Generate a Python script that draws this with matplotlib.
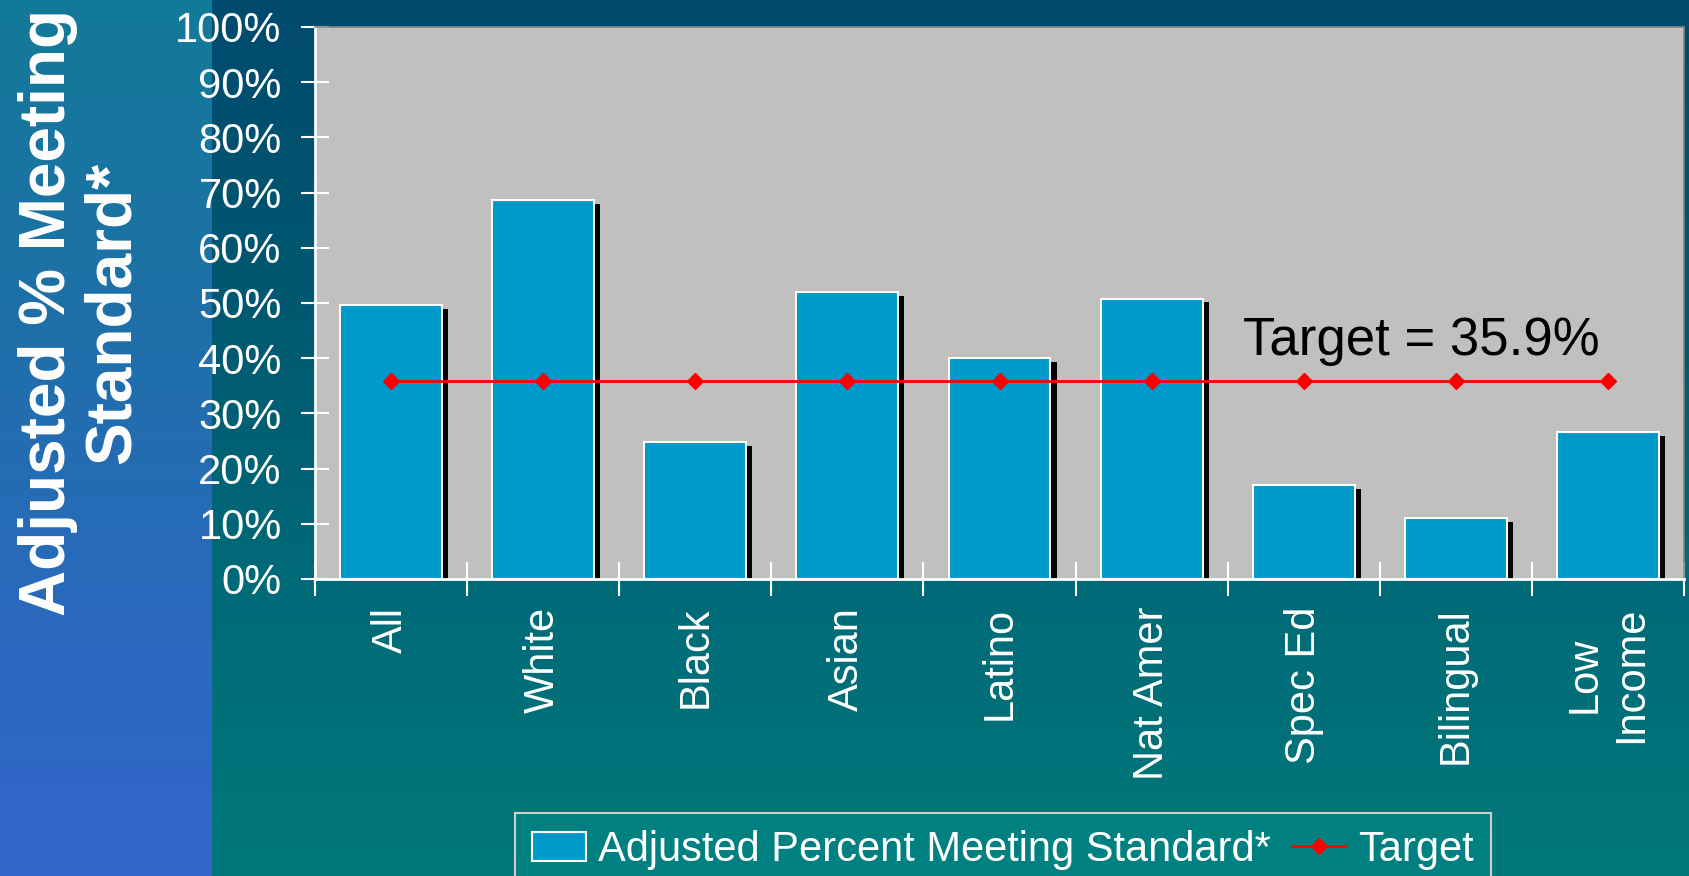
import numpy as np
import matplotlib
matplotlib.use("Agg")
import matplotlib.pyplot as plt
from matplotlib.colors import to_rgb
from matplotlib.patches import Patch
from matplotlib.lines import Line2D

plt.rcParams['font.family'] = ['Liberation Sans', 'DejaVu Sans']

categories = ["All", "White", "Black", "Asian", "Latino", "Nat Amer", "Spec Ed", "Bilingual", "Low\nIncome"]
values = [49.6, 68.6, 24.8, 52.0, 40.0, 50.8, 17.0, 11.1, 26.6]
target = [35.9] * len(categories)
yticks = [0, 10, 20, 30, 40, 50, 60, 70, 80, 90, 100]
ytick_labels = [f"{t}%" for t in yticks]

W, H, DPI = 1690, 876, 100
fig = plt.figure(figsize=(W / DPI, H / DPI), dpi=DPI)

# ---- background gradients ----
def vgrad(stops, n=H):
    ys = np.linspace(0, 1, n)
    pos = [p for p, _ in stops]
    cols = np.array([to_rgb(c) for _, c in stops])
    return np.stack([np.interp(ys, pos, cols[:, k]) for k in range(3)], axis=1)

strip_w = 212
main = vgrad([(0.0, "#004A6E"), (0.35, "#005870"), (0.66, "#006A78"), (1.0, "#00787A")])
strip = vgrad([(0.0, "#137A98"), (0.35, "#1E70A8"), (0.75, "#2C68C0"), (1.0, "#3366CC")])
img = np.zeros((H, W, 3))
img[:, :, :] = main[:, None, :]
img[:, :strip_w, :] = strip[:, None, :]
bg = fig.add_axes([0, 0, 1, 1])
bg.imshow(img, aspect='auto', extent=(0, 1, 0, 1), interpolation='bilinear')
bg.set_axis_off()

# ---- main axes ----
ax = fig.add_axes([315 / W, 1 - 579 / H, (1684 - 315) / W, (579 - 27) / H])
ax.set_facecolor("#C0C0C0")
x = np.arange(len(categories))
bw = 0.67
ax.bar(x + 0.04, np.array(values) - 0.7, width=bw, color="black", zorder=2)
ax.bar(x, values, width=bw, color="#0099CC", edgecolor="white", linewidth=1.5, zorder=3)
ax.plot(x, target, color="#FF0000", lw=2, marker="D", ms=8, zorder=4)
ax.text(6.77, 43.2, "Target = 35.9%", fontsize=38, ha="center", va="center", color="black", zorder=5)

ax.set_xlim(-0.5, len(categories) - 0.5)
ax.set_ylim(0, 100)
ax.set_yticks(yticks)
ax.set_yticklabels(ytick_labels)
ax.tick_params(axis='y', colors='white', labelsize=30, direction='inout', length=20, width=1.5, pad=14)
ax.set_xticks(x)
ax.set_xticklabels(categories, rotation=90, ha='center', va='top')
ax.tick_params(axis='x', which='major', length=0, colors='white', labelsize=30, pad=20)
ax.set_xticks(np.arange(len(categories) + 1) - 0.5, minor=True)
ax.tick_params(axis='x', which='minor', colors='white', direction='inout', length=24, width=1.5)
for lab in ax.get_xticklabels():
    lab.set_color('white')

for s in ['left', 'bottom']:
    ax.spines[s].set_color('white')
    ax.spines[s].set_linewidth(2)
for s in ['top', 'right']:
    ax.spines[s].set_color('#808080')
    ax.spines[s].set_linewidth(1.2)

fig.text(80 / W, 1 - 313 / H, "Adjusted % Meeting\nStandard*", rotation=90, ha='center', va='center',
         multialignment='center', fontsize=46, fontweight='bold', color='white', linespacing=1.1)

handles = [Patch(facecolor="#0099CC", edgecolor="white", linewidth=1.5),
           Line2D([0], [0], color="#FF0000", lw=2, marker="D", ms=8)]
leg = fig.legend(handles, ["Adjusted Percent Meeting Standard*", "Target"], ncol=2,
                 loc='upper left', bbox_to_anchor=(515 / W, 1 - 813 / H), bbox_transform=fig.transFigure,
                 borderaxespad=0,
                 fontsize=30, frameon=True, fancybox=False, facecolor="#008080", edgecolor="#D0D0D0",
                 framealpha=1, handlelength=1.3, handletextpad=0.3, columnspacing=0.5, borderpad=0.4,
                 handleheight=0.7)
leg.get_frame().set_linewidth(1.5)
for t in leg.get_texts():
    t.set_color('white')

fig.savefig("out.png", dpi=DPI)
